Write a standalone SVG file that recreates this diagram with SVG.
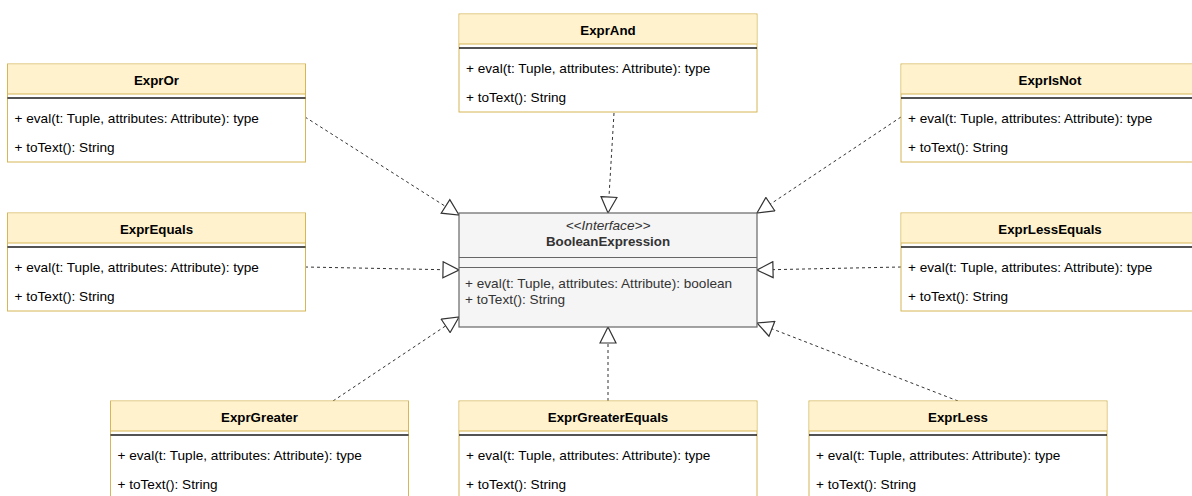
<svg xmlns="http://www.w3.org/2000/svg" width="1192" height="496" viewBox="0 0 1192 496">
  <style>
    text { font-family: "Liberation Sans", Arial, sans-serif; font-size: 13.6px; fill: #000; }
    .title { font-weight: bold; text-anchor: middle; font-size: 13.3px; }
    .hdr { fill: #fff2cc; stroke: none; }
    .body { fill: #ffffff; stroke: #d6b656; stroke-width: 1; }
    .frame { fill: none; stroke: #d6b656; stroke-width: 1; }
    .sep { stroke: #1a1a1a; stroke-width: 1.6; }
    .iface { fill: #f5f5f5; stroke: #666666; stroke-width: 1.2; }
    .iline { stroke: #666666; stroke-width: 1.2; }
    .itext { fill: #333333; }
    .edge { fill: none; stroke: #333333; stroke-width: 1; stroke-dasharray: 3 3; marker-end: url(#realize); }
  </style>
  <defs>
    <marker id="realize" markerUnits="userSpaceOnUse" markerWidth="18" markerHeight="18" viewBox="-1 -1 18 18" refX="16" refY="8" orient="auto">
      <path d="M0,0 L16,8 L0,16 Z" fill="#ffffff" stroke="#333333" stroke-width="1.2"/>
    </marker>
    <!-- reusable implementing class: yellow header, separator, two operations -->
    <g id="cls">
      <rect class="body" x="0" y="0" width="298" height="98"/>
      <rect class="hdr" x="0.5" y="0.5" width="297" height="29.5"/>
      <line class="frame" x1="0" y1="30" x2="298" y2="30"/>
      <line class="sep" x1="0" y1="34" x2="298" y2="34"/>
      <text x="7" y="58.5">+ eval(t: Tuple, attributes: Attribute): type</text>
      <text x="7" y="88">+ toText(): String</text>
    </g>
  </defs>

  <!-- realization connectors -->
  <g id="connectors">
    <path class="edge" d="M305,117 L459,215"/>
    <path class="edge" d="M614,113 L608,213"/>
    <path class="edge" d="M901,117 L757,213"/>
    <path class="edge" d="M305,267 L459,270"/>
    <path class="edge" d="M901,267 L757,270"/>
    <path class="edge" d="M333,401 L459,317"/>
    <path class="edge" d="M608,401 L608,327"/>
    <path class="edge" d="M958,401 L757,323"/>
  </g>

  <!-- interface -->
  <g id="BooleanExpression">
    <rect class="iface" x="459" y="213" width="298" height="114"/>
    <line class="iline" x1="459" y1="257.5" x2="757" y2="257.5"/>
    <line class="iline" x1="459" y1="267.5" x2="757" y2="267.5"/>
    <text class="itext" x="608" y="229.5" text-anchor="middle" font-style="italic">&lt;&lt;Interface&gt;&gt;</text>
    <text class="itext title" x="608" y="246">BooleanExpression</text>
    <text class="itext" x="465" y="287.5">+ eval(t: Tuple, attributes: Attribute): boolean</text>
    <text class="itext" x="465" y="303.5">+ toText(): String</text>
  </g>

  <g id="ExprAnd" transform="translate(459,14)">
    <use href="#cls"/>
    <text class="title" x="149" y="20.5">ExprAnd</text>
  </g>
  <g id="ExprOr" transform="translate(7.5,64)">
    <use href="#cls"/>
    <text class="title" x="149" y="20.5">ExprOr</text>
  </g>
  <g id="ExprIsNot" transform="translate(901,64)">
    <use href="#cls"/>
    <text class="title" x="149" y="20.5">ExprIsNot</text>
  </g>
  <g id="ExprEquals" transform="translate(7.5,213)">
    <use href="#cls"/>
    <text class="title" x="149" y="20.5">ExprEquals</text>
  </g>
  <g id="ExprLessEquals" transform="translate(901,213)">
    <use href="#cls"/>
    <text class="title" x="149" y="20.5">ExprLessEquals</text>
  </g>
  <g id="ExprGreater" transform="translate(110.5,401)">
    <use href="#cls"/>
    <text class="title" x="149" y="20.5">ExprGreater</text>
  </g>
  <g id="ExprGreaterEquals" transform="translate(459,401)">
    <use href="#cls"/>
    <text class="title" x="149" y="20.5">ExprGreaterEquals</text>
  </g>
  <g id="ExprLess" transform="translate(809,401)">
    <use href="#cls"/>
    <text class="title" x="149" y="20.5">ExprLess</text>
  </g>
</svg>
